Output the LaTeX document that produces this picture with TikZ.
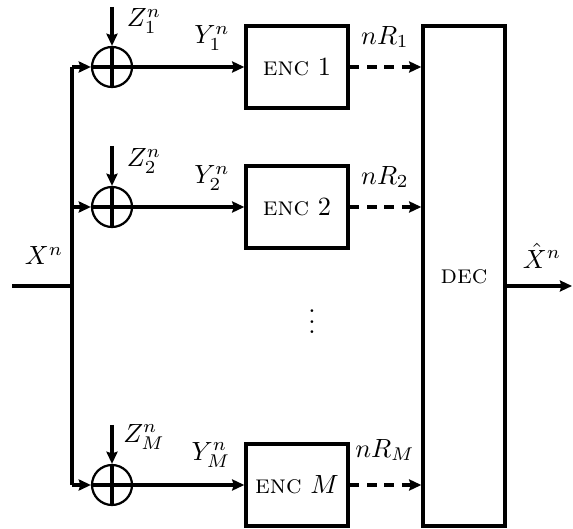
\documentclass[tikz,border=0pt]{standalone}
\usetikzlibrary{arrows.meta}
\begin{document}
\begin{tikzpicture}[x=0.38pt,y=-0.38pt,
  wire/.style={line width=1.25pt},
  arr/.style={wire,-{Stealth[length=4.6pt,width=4.2pt,inset=0.6pt]}},
  dasharr/.style={arr,dash pattern=on 3.6pt off 3pt},
  adder/.style={circle,draw,line width=0.85pt,minimum size=15.2pt,inner sep=0pt},
  encbox/.style={draw,line width=1.25pt,minimum width=38.8pt,minimum height=31.2pt,inner sep=0pt},
  decbox/.style={draw,line width=1.25pt,minimum width=31.2pt,minimum height=190pt,inner sep=0pt},
  lab/.style={inner sep=0pt}]
\useasboundingbox (0,0) rectangle (573,529);
% coordinates
\coordinate (in) at (12,286);
\coordinate (j) at (72,286);
\coordinate (b1) at (72,67);
\coordinate (b2) at (72,207);
\coordinate (bM) at (72,485);
\coordinate (z1) at (112,7);
\coordinate (z2) at (112,146);
\coordinate (zM) at (112,425);
\coordinate (out) at (572,286);
% blocks
\node[adder] (a1) at (112,67) {};
\node[adder] (a2) at (112,207) {};
\node[adder] (aM) at (112,485) {};
\node[encbox] (e1) at (297,67) {\textsc{enc} 1};
\node[encbox] (e2) at (297,207) {\textsc{enc} 2};
\node[encbox] (eM) at (297,485) {\textsc{enc} $M$};
\node[decbox] (dec) at (464,276) {};
\node[lab] (dectxt) at (464,277) {\textsc{dec}};
% bus
\draw[wire] (in) -- (j);
\draw[wire] (b1) -- (bM);
\draw[arr] (b1) -- (a1.west);
\draw[arr] (b2) -- (a2.west);
\draw[arr] (bM) -- (aM.west);
% noise
\draw[arr] (z1) -- (a1.north);
\draw[arr] (z2) -- (a2.north);
\draw[arr] (zM) -- (aM.north);
\foreach \a in {a1,a2,aM}{
  \draw[wire] (\a.north) -- (\a.south);
  \draw[wire] (\a.west) -- (\a.east);
}
% to encoders
\draw[arr] (a1.east) -- (e1.west);
\draw[arr] (a2.east) -- (e2.west);
\draw[arr] (aM.east) -- (eM.west);
% to decoder
\draw[dasharr] (e1.east) -- (e1.east -| dec.west);
\draw[dasharr] (e2.east) -- (e2.east -| dec.west);
\draw[dasharr] (eM.east) -- (eM.east -| dec.west);
\draw[arr] (j -| dec.east) -- (out);
% labels
\node[lab] (lx) at (44,256) {$X^n$};
\node[lab] (lxh) at (542,256) {$\hat{X}^n$};
\node[lab] (lz1) at (144,21) {$Z_1^n$};
\node[lab] (lz2) at (144,161) {$Z_2^n$};
\node[lab] (lzM) at (144,437) {$Z_M^n$};
\node[lab] (ly1) at (212,38) {$Y_1^n$};
\node[lab] (ly2) at (212,178) {$Y_2^n$};
\node[lab] (lyM) at (211,455) {$Y_M^n$};
\node[lab] (lr1) at (385,37) {$nR_1$};
\node[lab] (lr2) at (385,177) {$nR_2$};
\node[lab] (lrM) at (385,450) {$nR_M$};
\node[lab] (dots) at (312,314) {$\vdots$};
\end{tikzpicture}
\end{document}
